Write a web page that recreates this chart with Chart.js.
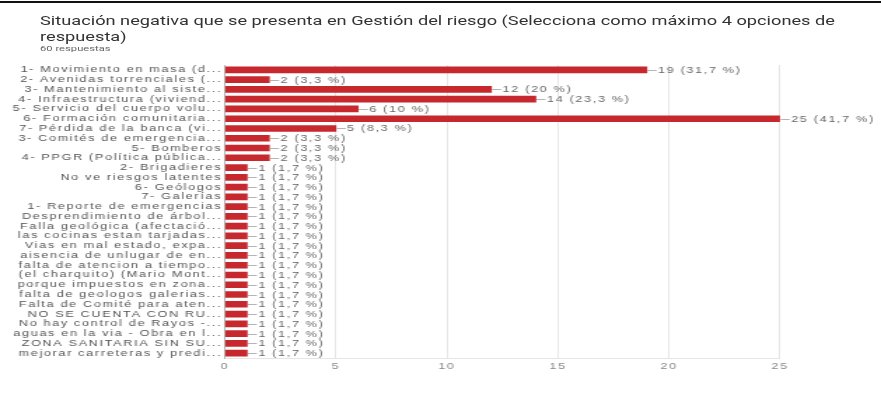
<!DOCTYPE html>
<html>
<head>
<meta charset="utf-8">
<script src="https://cdn.jsdelivr.net/npm/chart.js@4.4.1/dist/chart.umd.min.js"></script>
<style>
  html, body { margin: 0; padding: 0; background: #fff; overflow: hidden; }
  #page { position: relative; width: 881px; height: 396px; overflow: hidden; background: #fff; }
  #topRule { position: absolute; left: 0; top: 1px; width: 881px; height: 2px; background: #111; }
  /* the whole card is laid out narrow and widened horizontally */
  #wide { position: absolute; left: 0; top: 0; width: 629px; height: 396px; transform: scaleX(1.4006); transform-origin: 0 0; }
  #title { position: absolute; left: 28.6px; top: 13px; font: 13px Roboto, "Liberation Sans", sans-serif; color: #333; line-height: 16px; white-space: nowrap; }
  #sub { position: absolute; left: 28.6px; top: 43.5px; font: 8px Roboto, "Liberation Sans", sans-serif; color: #666; line-height: 10px; }
  canvas { position: absolute; left: 0; top: 0; }
</style>
</head>
<body>
<div id="page">
  <div id="topRule"></div>
  <div id="wide">
    <div id="title">Situación negativa que se presenta en Gestión del riesgo (Selecciona como máximo 4 opciones de<br>respuesta)</div>
    <div id="sub">60 respuestas</div>
    <canvas id="c" width="629" height="396" style="width:629px;height:396px"></canvas>
  </div>
</div>
<script>
// Answer options (as shown, truncated) and how many respondents picked each
const categories = [
  "1- Movimiento en masa (d...",
  "2- Avenidas torrenciales (...",
  "3- Mantenimiento al siste...",
  "4- Infraestructura (viviend...",
  "5- Servicio del cuerpo volu...",
  "6- Formación comunitaria...",
  "7- Pérdida de la banca (vi...",
  "3- Comités de emergencia...",
  "5- Bomberos",
  "4- PPGR (Política pública...",
  "2- Brigadieres",
  "No ve riesgos latentes",
  "6- Geólogos",
  "7- Galerías",
  "1- Reporte de emergencias",
  "Desprendimiento de árbol...",
  "Falla geológica (afectació...",
  "las cocinas estan tarjadas...",
  "Vias en mal estado, expa...",
  "aisencia de unlugar de en...",
  "falta de atencion a tiempo...",
  "(el charquito) (Mario Mont...",
  "porque impuestos en zona...",
  "falta de geologos galerias...",
  "Falta de Comité para aten...",
  "NO SE CUENTA CON RU...",
  "No hay control de Rayos -...",
  "aguas en la via - Obra en l...",
  "ZONA SANITARIA SIN SU...",
  "mejorar carreteras y predi..."
];
const counts = [19, 2, 12, 14, 6, 25, 5, 2, 2, 2,
                1, 1, 1, 1, 1, 1, 1, 1, 1, 1,
                1, 1, 1, 1, 1, 1, 1, 1, 1, 1];
const totalResponses = 60;
const xTicks = [0, 5, 10, 15, 20, 25];

const fontFamily = '"Liberation Sans", Arial, sans-serif';
const spacing = '1.2px';

function pctText(v) {
  let p = (v / totalResponses * 100).toFixed(1);
  if (p.endsWith('.0')) p = p.slice(0, -2);
  return v + ' (' + p.replace('.', ',') + ' %)';
}

// loose letter spacing for every text drawn on the canvas
const looseText = {
  id: 'looseText',
  beforeDraw(chart) { chart.ctx.letterSpacing = spacing; },
  afterDraw(chart) { chart.ctx.letterSpacing = '0px'; }
};

// leader line plus "n (p %)" after each bar
const valueLabels = {
  id: 'valueLabels',
  afterDatasetsDraw(chart) {
    const ctx = chart.ctx;
    const meta = chart.getDatasetMeta(0);
    ctx.save();
    ctx.font = '9px ' + fontFamily;
    ctx.letterSpacing = spacing;
    ctx.fillStyle = '#666';
    ctx.strokeStyle = '#b5b5b5';
    ctx.lineWidth = 1;
    ctx.textBaseline = 'middle';
    ctx.textAlign = 'left';
    meta.data.forEach((bar, i) => {
      const x = bar.x, y = bar.y;
      const ly = Math.round(y) + 0.5;
      ctx.beginPath();
      ctx.moveTo(x + 0.5, ly);
      ctx.lineTo(x + 7, ly);
      ctx.stroke();
      ctx.fillText(pctText(counts[i]), x + 8, y + 0.5);
    });
    ctx.restore();
  }
};

const W = 629;
const plotLeft = 160.6;
const plotRight = 556.9;

new Chart(document.getElementById('c'), {
  type: 'bar',
  data: {
    labels: categories,
    datasets: [{
      data: counts,
      backgroundColor: '#c6282d',
      borderWidth: 0,
      barThickness: 6
    }]
  },
  options: {
    indexAxis: 'y',
    responsive: false,
    animation: false,
    devicePixelRatio: 1,
    layout: { padding: { left: 0, right: W - plotRight, top: 65, bottom: 18 } },
    plugins: { legend: { display: false }, tooltip: { enabled: false }, title: { display: false } },
    scales: {
      x: {
        min: 0, max: 25,
        afterBuildTicks: s => { s.ticks = xTicks.map(v => ({ value: v })); },
        ticks: { font: { family: fontFamily, size: 9 }, color: '#888', padding: 3 },
        grid: { color: '#e6e6e6', drawTicks: false },
        border: { color: '#e6e6e6' },
        afterFit: s => { s.height = 20; }
      },
      y: {
        ticks: { autoSkip: false, font: { family: fontFamily, size: 9 }, color: '#555', padding: 2 },
        grid: { display: false, drawTicks: false },
        border: { display: true, color: '#b0b0b0' },
        afterFit: s => { s.width = plotLeft; }
      }
    }
  },
  plugins: [looseText, valueLabels]
});
</script>
</body>
</html>
